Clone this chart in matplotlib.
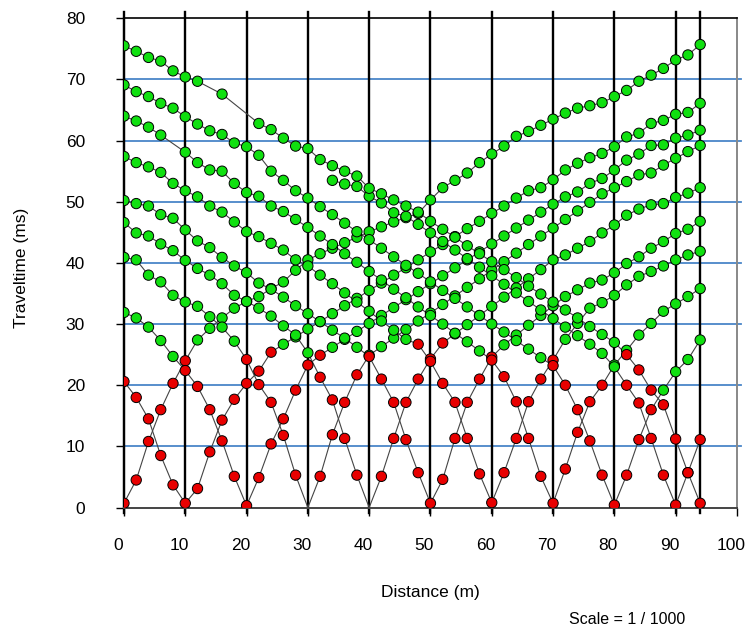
import matplotlib
matplotlib.use("Agg")
import matplotlib.pyplot as plt
import matplotlib.transforms as mtransforms

plt.rcParams['font.family'] = ['Liberation Sans', 'DejaVu Sans']

# geophone positions (m)
geophones = [0, 2, 4, 6, 8, 10, 12, 14, 16, 18, 20, 22, 24, 26, 28, 30, 32, 34, 36, 38,
             40, 42, 44, 46, 48, 50, 52, 54, 56, 58, 60, 62, 64, 66, 68, 70, 72, 74, 76, 78,
             80, 82, 84, 86, 88, 90, 92, 94]

# shot positions (m)
shots = [0, 10, 20, 30, 40, 50, 60, 70, 80, 90, 94]

# picked traveltimes (ms) for each shot, one value per geophone (None = no pick)
t_shot0 = [0.7, 4.5, 10.8, 16.0, 20.3, 24.0, 27.4, 29.3, 31.0, 32.6, 33.7, 34.5, 35.8, 36.9, 38.8, 40.5,
           41.5, 42.4, 43.3, 44.2, 45.1, 45.9, 46.7, 47.4, 48.1, 50.3, 52.3, 53.5, 54.7, 56.4, 57.8, 59.1,
           60.7, 61.5, 62.5, 63.5, 64.5, 65.3, 65.7, 66.2, 67.2, 68.2, 69.7, 70.7, 71.8, 73.2, 74.0, 75.7]
t_shot10 = [20.6, 18.0, 14.5, 8.5, 3.7, 0.7, 3.1, 9.1, 14.3, 17.7, 20.3, 22.3, 25.4, 26.7, 27.9, 29.2,
            30.4, 31.7, 33.0, 34.2, 35.5, 36.7, 38.0, 39.2, 40.5, 41.8, 43.0, 44.3, 45.6, 46.8, 48.1, 49.3,
            50.6, 51.8, 52.3, 53.6, 55.2, 56.3, 57.2, 57.9, 59.0, 60.6, 61.2, 62.8, 63.3, 64.3, 64.6, 66.1]
t_shot20 = [31.9, 31.0, 29.5, 27.3, 24.7, 22.4, 19.8, 16.0, 10.9, 5.1, 0.3, 4.9, 10.4, 14.5, 19.2, 23.3,
            24.9, 26.2, 27.5, 28.8, 30.1, 31.4, 32.7, 34.0, 35.3, 36.6, 37.9, 39.2, 40.5, 41.8, 43.1, 44.4,
            45.7, 47.0, 48.3, 49.6, 50.8, 51.6, 53.0, 53.8, 55.2, 56.8, 57.8, 59.2, 59.3, 60.4, 60.9, 61.7]
t_shot30 = [40.9, 40.5, 38.0, 36.9, 34.7, 33.6, 32.9, 31.2, 29.5, 27.2, 24.2, 20.1, 17.2, 11.8, 5.3, 0.0,
            5.1, 11.9, 17.2, 21.7, 24.9, 26.3, 27.7, 29.1, 30.5, 31.8, 33.2, 34.6, 36.0, 37.4, 38.8, 40.2,
            41.6, 43.0, 44.4, 45.7, 47.1, 48.5, 49.9, 51.3, 52.3, 53.3, 54.4, 54.7, 56.0, 57.1, 58.2, 59.2]
t_shot40 = [46.6, 44.9, 44.4, 43.1, 42.0, 40.4, 39.1, 38.0, 36.6, 34.7, 33.7, 32.6, 31.3, 29.7, 28.2, 25.3,
            21.3, 17.6, 11.3, 5.3, 0.0, 5.1, 11.3, 17.2, 21.0, 24.3, 26.9, 28.4, 29.9, 31.4, 32.9, 34.4,
            35.9, 37.4, 38.9, 40.5, 41.3, 42.4, 43.5, 44.9, 46.2, 47.8, 48.8, 49.5, 49.7, 50.7, 51.4, 52.3]
t_shot50 = [50.2, 49.7, 49.3, 47.9, 47.3, 45.4, 43.6, 42.5, 40.9, 39.5, 38.4, 36.7, 35.7, 34.4, 33.0, 31.7,
            30.4, 29.0, 27.7, 26.2, 24.7, 21.0, 17.2, 11.1, 5.7, 0.7, 4.6, 11.3, 17.2, 21.0, 24.6, 26.6,
            28.2, 29.8, 31.4, 33.0, 34.5, 35.6, 36.7, 37.2, 38.4, 39.9, 41.0, 42.4, 43.5, 44.8, 45.5, 46.8]
t_shot60 = [57.4, 56.4, 55.7, 54.8, 53.0, 51.8, 50.8, 49.3, 48.3, 46.7, 45.1, 44.3, 43.2, 42.1, 40.5, 39.5,
            38.0, 36.6, 35.1, 33.6, 32.1, 30.5, 29.0, 27.5, 26.7, 23.9, 20.3, 17.2, 11.3, 5.5, 0.8, 5.7,
            11.3, 17.3, 21.0, 24.1, 27.5, 30.1, 32.6, 33.5, 34.7, 36.4, 37.8, 38.6, 39.5, 40.5, 41.3, 41.9]
t_shot70 = [64.0, 63.2, 62.2, 60.9, None, 58.1, 56.4, 55.2, 55.0, 53.0, 51.5, 50.9, 49.3, 48.4, 47.1, 45.8,
            44.4, 43.0, 41.5, 40.1, 38.6, 37.2, 35.7, 34.3, 32.8, 31.4, 30.0, 28.5, 27.1, 25.6, 24.1, 21.4,
            17.3, 11.3, 5.1, 0.7, 6.3, 12.3, 17.3, 20.0, 23.3, 25.7, 28.2, 30.1, 32.1, 33.3, 34.5, 35.8]
t_shot80 = [69.1, 68.0, 67.2, 66.1, 65.3, 63.9, 62.7, 61.6, 61.0, 59.6, 59.0, 57.6, 55.0, 53.5, 51.8, 50.6,
            49.2, 47.9, 46.5, 45.1, 43.8, 42.4, 41.0, 39.6, 38.3, 36.9, 35.5, 34.2, 32.8, 31.4, 30.0, 28.7,
            27.3, 25.9, 24.5, 23.2, 20.0, 16.0, 10.9, 5.3, 0.4, 5.3, 11.1, 16.0, 19.2, 22.2, 24.2, 27.4]
t_shot90 = [None, None, None, None, None, None, None, None, None, None, None, None, None, None, None, None,
            None, 53.5, 52.9, 52.5, 50.9, 49.8, 48.2, 47.6, 46.3, 44.9, 43.5, 42.1, 40.7, 39.3, 37.9, 36.5,
            35.1, 33.7, 32.3, 30.9, 29.5, 28.1, 26.7, 25.2, 23.0, 20.0, 17.1, 11.3, 5.3, 0.4, 5.7, 11.1]
t_shot94 = [75.5, 74.6, 73.6, 73.0, 71.4, 70.4, 69.7, None, 67.6, None, None, 62.8, 61.8, 60.4, 59.1, 58.7,
            56.9, 55.9, 55.0, 54.2, 52.2, 51.3, 50.3, 49.3, 48.3, 46.8, 45.5, 44.2, 42.8, 41.5, 40.2, 38.9,
            37.6, 36.2, 34.9, 33.6, 32.3, 31.0, 29.6, 28.3, 27.0, 25.0, 22.5, 19.2, 16.8, 11.2, 5.7, 0.7]

# number of direct-wave (red) picks on the left / right of each shot
red_left = [0, 5, 5, 5, 4, 5, 6, 5, 5, 4, 6]
red_right = [5, 7, 6, 4, 6, 5, 5, 4, 3, 2, 0]

times = [t_shot0, t_shot10, t_shot20, t_shot30, t_shot40, t_shot50,
         t_shot60, t_shot70, t_shot80, t_shot90, t_shot94]


def plot_shot(ax, shot, tt, n_left, n_right):
    xs, ys, cols = [], [], []
    for x, t in zip(geophones, tt):
        if t is None:
            continue
        xs.append(x)
        ys.append(t)
        off = (x - shot) / 2
        if -n_left <= off <= n_right:
            cols.append('#e80000')
        else:
            cols.append('#10e010')
    ax.plot(xs, ys, color='#444444', lw=0.8, zorder=3)
    # the shot point itself is not marked when its time is zero
    mx = [x for x, t in zip(xs, ys) if t > 0]
    my = [t for t in ys if t > 0]
    mc = [c for c, t in zip(cols, ys) if t > 0]
    ax.scatter(mx, my, s=55, c=mc, edgecolors='black', linewidths=0.7, zorder=4)


fig = plt.figure(figsize=(7.45, 6.3), dpi=100)
ax = fig.add_axes([0.1664, 0.1944, 0.8228, 0.7766])

for y in range(10, 80, 10):
    ax.axhline(y, xmin=0, xmax=1.007, color='#4a86c8', lw=1.3, zorder=1, clip_on=False)
for s in shots:
    ax.axvline(s, ymin=-0.012, ymax=1.012, color='black', lw=1.7, zorder=2, clip_on=False)

for i in range(len(shots)):
    plot_shot(ax, shots[i], times[i], red_left[i], red_right[i])

ax.set_xlim(0, 100)
ax.set_ylim(0, 80)
ax.set_xticks(range(0, 101, 10))
ax.set_yticks(range(0, 81, 10))
ax.tick_params(axis='y', direction='out', length=6, width=1, pad=22, labelsize=12.5)
ax.tick_params(axis='x', direction='out', length=6, width=1, pad=16, labelsize=12.5)
shift = mtransforms.ScaledTranslation(-6 / 100, 0, fig.dpi_scale_trans)
for lab in ax.get_xticklabels():
    lab.set_transform(lab.get_transform() + shift)

ax.spines['left'].set_color('black')
ax.spines['left'].set_linewidth(1.5)
ax.spines['top'].set_color('black')
ax.spines['top'].set_linewidth(1.2)
ax.spines['bottom'].set_color('#444444')
ax.spines['bottom'].set_linewidth(1.4)
ax.spines['right'].set_color('#888888')
ax.spines['right'].set_linewidth(1.4)

fig.text(22 / 745, 1 - 268 / 630, 'Traveltime (ms)', rotation=90, ha='center', va='center', fontsize=12.5)
fig.text(430 / 745, 1 - 593 / 630, 'Distance (m)', ha='center', va='center', fontsize=12.5)
fig.text(627 / 745, 1 - 619 / 630, 'Scale = 1 / 1000', ha='center', va='center', fontsize=11.5)

fig.savefig('out.png', dpi=100)
